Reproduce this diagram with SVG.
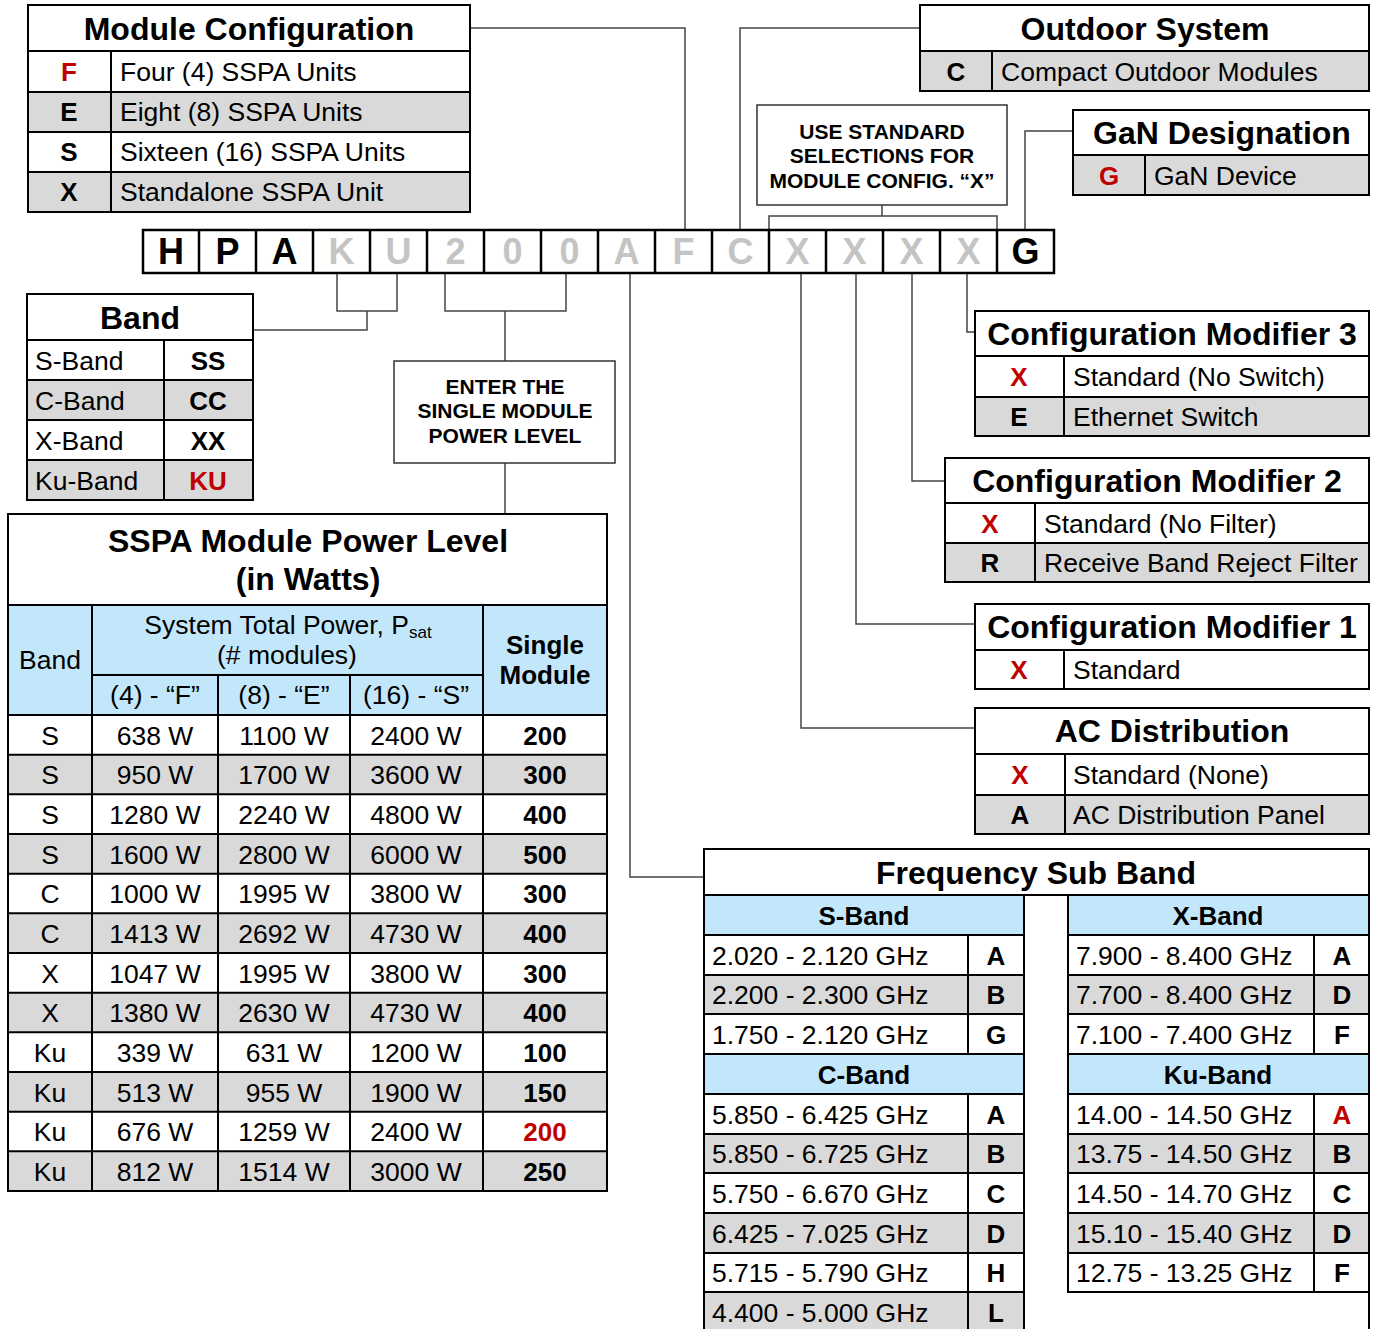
<svg xmlns="http://www.w3.org/2000/svg" width="1373" height="1329" viewBox="0 0 1373 1329">
<style>
text{font-family:"Liberation Sans",Arial,sans-serif;fill:#000}
.t{font-size:32px;font-weight:bold;text-anchor:middle}
.r{font-size:26.5px}
.rc{font-size:26.5px;text-anchor:middle}
.k{font-size:26px;font-weight:bold;text-anchor:middle}
.red{fill:#c00000}
.code{font-size:36px;font-weight:bold;text-anchor:middle;fill:#c4c4c4}
.dark{fill:#000}
.note{font-size:21px;font-weight:bold;text-anchor:middle}
.box{fill:#fff;stroke:#000;stroke-width:2}
.nbox{fill:#fff;stroke:#333;stroke-width:1.5}
.ln{stroke:#000;stroke-width:2;fill:none}
.g{fill:#d9d9d9}
.b{fill:#c3e7fa}
.cn{stroke:#444;stroke-width:1.5;fill:none}
</style>

<g id="connectors">
<path class="cn" d="M470 28H685V230"/>
<path class="cn" d="M920 28H740V230"/>
<path class="cn" d="M1073 131H1025V230"/>
<path class="cn" d="M882 205V216M769 230V216H997V230"/>
<path class="cn" d="M337 273V311H397V273M367 311V330H253"/>
<path class="cn" d="M445 273V311H566V273M505 311V361M505 463V514"/>
<path class="cn" d="M630 273V877H704"/>
<path class="cn" d="M801 273V728H975"/>
<path class="cn" d="M856 273V624H975"/>
<path class="cn" d="M912 273V481H945"/>
<path class="cn" d="M967 273V332H975"/>
</g>

<g id="module-configuration">
<rect class="box" x="28" y="5" width="442" height="207"/>
<rect class="g" x="28" y="92" width="442" height="40"/>
<rect class="g" x="28" y="172" width="442" height="40"/>
<rect x="28" y="5" width="442" height="207" fill="none" stroke="#000" stroke-width="2"/>
<path class="ln" d="M28 51H470M28 92H470M28 132H470M28 172H470M111 51V212"/>
<text class="t" x="249" y="40">Module Configuration</text>
<text class="k red" x="69" y="81">F</text><text class="r" x="120" y="81">Four (4) SSPA Units</text>
<text class="k" x="69" y="121">E</text><text class="r" x="120" y="121">Eight (8) SSPA Units</text>
<text class="k" x="69" y="161">S</text><text class="r" x="120" y="161">Sixteen (16) SSPA Units</text>
<text class="k" x="69" y="201">X</text><text class="r" x="120" y="201">Standalone SSPA Unit</text>
</g>

<g id="outdoor-system">
<rect class="box" x="920" y="5" width="449" height="86"/>
<rect class="g" x="920" y="51" width="449" height="40"/>
<rect x="920" y="5" width="449" height="86" fill="none" stroke="#000" stroke-width="2"/>
<path class="ln" d="M920 51H1369M992 51V91"/>
<text class="t" x="1145" y="40">Outdoor System</text>
<text class="k" x="956" y="81">C</text><text class="r" x="1001" y="81">Compact Outdoor Modules</text>
</g>

<g id="gan-designation">
<rect class="box" x="1073" y="110" width="296" height="85"/>
<rect class="g" x="1073" y="155" width="296" height="40"/>
<rect x="1073" y="110" width="296" height="85" fill="none" stroke="#000" stroke-width="2"/>
<path class="ln" d="M1073 155H1369M1145 155V195"/>
<text class="t" x="1222" y="144">GaN Designation</text>
<text class="k red" x="1109" y="185">G</text><text class="r" x="1154" y="185">GaN Device</text>
</g>

<g id="note-standard">
<rect class="nbox" x="757" y="105" width="250" height="100"/>
<text class="note" x="882" y="139">USE STANDARD</text>
<text class="note" x="882" y="163">SELECTIONS FOR</text>
<text class="note" x="882" y="188">MODULE CONFIG. “X”</text>
</g>

<g id="model-code">
<rect x="143" y="230" width="911" height="43" fill="#fff"/>
<path stroke="#000" stroke-width="2.5" fill="none" d="M143 230H1054V273H143ZM199 230V273M256 230V273M313 230V273M370 230V273M427 230V273M484 230V273M541 230V273M598 230V273M655 230V273M712 230V273M769 230V273M826 230V273M883 230V273M940 230V273M997 230V273"/>
<text class="code dark" x="171" y="264">H</text>
<text class="code dark" x="227.5" y="264">P</text>
<text class="code dark" x="284.5" y="264">A</text>
<text class="code" x="341.5" y="264">K</text>
<text class="code" x="398.5" y="264">U</text>
<text class="code" x="455.5" y="264">2</text>
<text class="code" x="512.5" y="264">0</text>
<text class="code" x="569.5" y="264">0</text>
<text class="code" x="626.5" y="264">A</text>
<text class="code" x="683.5" y="264">F</text>
<text class="code" x="740.5" y="264">C</text>
<text class="code" x="797.5" y="264">X</text>
<text class="code" x="854.5" y="264">X</text>
<text class="code" x="911.5" y="264">X</text>
<text class="code" x="968.5" y="264">X</text>
<text class="code dark" x="1025.5" y="264">G</text>
</g>

<g id="band">
<rect class="box" x="27" y="294" width="226" height="206"/>
<rect class="g" x="27" y="380" width="226" height="40"/>
<rect class="g" x="27" y="460" width="226" height="40"/>
<rect x="27" y="294" width="226" height="206" fill="none" stroke="#000" stroke-width="2"/>
<path class="ln" d="M27 340H253M27 380H253M27 420H253M27 460H253M164 340V500"/>
<text class="t" x="140" y="329">Band</text>
<text class="r" x="35" y="370">S-Band</text><text class="k" x="208" y="370">SS</text>
<text class="r" x="35" y="410">C-Band</text><text class="k" x="208" y="410">CC</text>
<text class="r" x="35" y="450">X-Band</text><text class="k" x="208" y="450">XX</text>
<text class="r" x="35" y="490">Ku-Band</text><text class="k red" x="208" y="490">KU</text>
</g>

<g id="note-power">
<rect class="nbox" x="394" y="361" width="221" height="102"/>
<text class="note" x="505" y="394">ENTER THE</text>
<text class="note" x="505" y="418">SINGLE MODULE</text>
<text class="note" x="505" y="443">POWER LEVEL</text>
</g>

<g id="config-modifier-3">
<rect class="box" x="975" y="311" width="394" height="125"/>
<rect class="g" x="975" y="397" width="394" height="39"/>
<rect x="975" y="311" width="394" height="125" fill="none" stroke="#000" stroke-width="2"/>
<path class="ln" d="M975 356H1369M975 397H1369M1064 356V436"/>
<text class="t" x="1172" y="345">Configuration Modifier 3</text>
<text class="k red" x="1019" y="386">X</text><text class="r" x="1073" y="386">Standard (No Switch)</text>
<text class="k" x="1019" y="426">E</text><text class="r" x="1073" y="426">Ethernet Switch</text>
</g>

<g id="config-modifier-2">
<rect class="box" x="945" y="458" width="424" height="124"/>
<rect class="g" x="945" y="543" width="424" height="39"/>
<rect x="945" y="458" width="424" height="124" fill="none" stroke="#000" stroke-width="2"/>
<path class="ln" d="M945 503H1369M945 543H1369M1035 503V582"/>
<text class="t" x="1157" y="492">Configuration Modifier 2</text>
<text class="k red" x="990" y="533">X</text><text class="r" x="1044" y="533">Standard (No Filter)</text>
<text class="k" x="990" y="572">R</text><text class="r" x="1044" y="572">Receive Band Reject Filter</text>
</g>

<g id="config-modifier-1">
<rect class="box" x="975" y="604" width="394" height="85"/>
<path class="ln" d="M975 650H1369M1064 650V689"/>
<text class="t" x="1172" y="638">Configuration Modifier 1</text>
<text class="k red" x="1019" y="679">X</text><text class="r" x="1073" y="679">Standard</text>
</g>

<g id="ac-distribution">
<rect class="box" x="975" y="708" width="394" height="126"/>
<rect class="g" x="975" y="795" width="394" height="39"/>
<rect x="975" y="708" width="394" height="126" fill="none" stroke="#000" stroke-width="2"/>
<path class="ln" d="M975 754H1369M975 795H1369M1065 754V834"/>
<text class="t" x="1172" y="742">AC Distribution</text>
<text class="k red" x="1020" y="784">X</text><text class="r" x="1073" y="784">Standard (None)</text>
<text class="k" x="1020" y="824">A</text><text class="r" x="1073" y="824">AC Distribution Panel</text>
</g>

<g id="sspa-power-level">
<rect class="box" x="8" y="514" width="599" height="677"/>
<rect class="b" x="8" y="605" width="599" height="110"/>
<rect class="g" x="8" y="754.7" width="599" height="39.7"/>
<rect class="g" x="8" y="834" width="599" height="39.7"/>
<rect class="g" x="8" y="913.3" width="599" height="39.7"/>
<rect class="g" x="8" y="992.7" width="599" height="39.7"/>
<rect class="g" x="8" y="1072" width="599" height="39.7"/>
<rect class="g" x="8" y="1151.3" width="599" height="39.7"/>
<rect x="8" y="514" width="599" height="677" fill="none" stroke="#000" stroke-width="2"/>
<path class="ln" d="M8 605H607M8 715H607M92 675H483M8 754.7H607M8 794.3H607M8 834H607M8 873.7H607M8 913.3H607M8 953H607M8 992.7H607M8 1032.3H607M8 1072H607M8 1111.7H607M8 1151.3H607M92 605V1191M218 675V1191M350 675V1191M483 605V1191"/>
<text class="t" x="308" y="552">SSPA Module Power Level</text>
<text class="t" x="308" y="590">(in Watts)</text>
<text class="rc" x="50" y="669">Band</text>
<text class="rc" x="288" y="634">System Total Power, P<tspan font-size="17" dy="4">sat</tspan></text>
<text class="rc" x="287" y="664">(# modules)</text>
<text class="rc" x="155" y="704">(4) - “F”</text>
<text class="rc" x="284" y="704">(8) - “E”</text>
<text class="rc" x="416" y="704">(16) - “S”</text>
<text class="k" x="545" y="654">Single</text>
<text class="k" x="545" y="684">Module</text>
<g class="rows">
<text class="rc" x="50" y="744.5">S</text><text class="rc" x="155" y="744.5">638 W</text><text class="rc" x="284" y="744.5">1100 W</text><text class="rc" x="416" y="744.5">2400 W</text><text class="k" x="545" y="744.5">200</text>
<text class="rc" x="50" y="784.2">S</text><text class="rc" x="155" y="784.2">950 W</text><text class="rc" x="284" y="784.2">1700 W</text><text class="rc" x="416" y="784.2">3600 W</text><text class="k" x="545" y="784.2">300</text>
<text class="rc" x="50" y="823.8">S</text><text class="rc" x="155" y="823.8">1280 W</text><text class="rc" x="284" y="823.8">2240 W</text><text class="rc" x="416" y="823.8">4800 W</text><text class="k" x="545" y="823.8">400</text>
<text class="rc" x="50" y="863.5">S</text><text class="rc" x="155" y="863.5">1600 W</text><text class="rc" x="284" y="863.5">2800 W</text><text class="rc" x="416" y="863.5">6000 W</text><text class="k" x="545" y="863.5">500</text>
<text class="rc" x="50" y="903.2">C</text><text class="rc" x="155" y="903.2">1000 W</text><text class="rc" x="284" y="903.2">1995 W</text><text class="rc" x="416" y="903.2">3800 W</text><text class="k" x="545" y="903.2">300</text>
<text class="rc" x="50" y="942.8">C</text><text class="rc" x="155" y="942.8">1413 W</text><text class="rc" x="284" y="942.8">2692 W</text><text class="rc" x="416" y="942.8">4730 W</text><text class="k" x="545" y="942.8">400</text>
<text class="rc" x="50" y="982.5">X</text><text class="rc" x="155" y="982.5">1047 W</text><text class="rc" x="284" y="982.5">1995 W</text><text class="rc" x="416" y="982.5">3800 W</text><text class="k" x="545" y="982.5">300</text>
<text class="rc" x="50" y="1022.2">X</text><text class="rc" x="155" y="1022.2">1380 W</text><text class="rc" x="284" y="1022.2">2630 W</text><text class="rc" x="416" y="1022.2">4730 W</text><text class="k" x="545" y="1022.2">400</text>
<text class="rc" x="50" y="1061.8">Ku</text><text class="rc" x="155" y="1061.8">339 W</text><text class="rc" x="284" y="1061.8">631 W</text><text class="rc" x="416" y="1061.8">1200 W</text><text class="k" x="545" y="1061.8">100</text>
<text class="rc" x="50" y="1101.5">Ku</text><text class="rc" x="155" y="1101.5">513 W</text><text class="rc" x="284" y="1101.5">955 W</text><text class="rc" x="416" y="1101.5">1900 W</text><text class="k" x="545" y="1101.5">150</text>
<text class="rc" x="50" y="1141.2">Ku</text><text class="rc" x="155" y="1141.2">676 W</text><text class="rc" x="284" y="1141.2">1259 W</text><text class="rc" x="416" y="1141.2">2400 W</text><text class="k red" x="545" y="1141.2">200</text>
<text class="rc" x="50" y="1180.8">Ku</text><text class="rc" x="155" y="1180.8">812 W</text><text class="rc" x="284" y="1180.8">1514 W</text><text class="rc" x="416" y="1180.8">3000 W</text><text class="k" x="545" y="1180.8">250</text>
</g>
</g>

<g id="frequency-sub-band">
<rect class="box" x="704" y="849" width="665" height="500"/>
<rect class="b" x="704" y="895" width="320" height="40"/>
<rect class="b" x="704" y="1054" width="320" height="40"/>
<rect class="b" x="1068" y="895" width="301" height="40"/>
<rect class="b" x="1068" y="1054" width="301" height="40"/>
<rect class="g" x="704" y="975" width="320" height="39"/>
<rect class="g" x="704" y="1134" width="320" height="39"/>
<rect class="g" x="704" y="1213" width="320" height="40"/>
<rect class="g" x="704" y="1292" width="320" height="50"/>
<rect class="g" x="1068" y="975" width="301" height="39"/>
<rect class="g" x="1068" y="1134" width="301" height="39"/>
<rect class="g" x="1068" y="1213" width="301" height="40"/>
<rect x="704" y="849" width="665" height="500" fill="none" stroke="#000" stroke-width="2"/>
<path class="ln" d="M704 895H1369M1024 895V1340M1068 895V1292H1369M704 935H1024M704 975H1024M704 1014H1024M704 1054H1024M704 1094H1024M704 1134H1024M704 1173H1024M704 1213H1024M704 1253H1024M704 1292H1024M1068 935H1369M1068 975H1369M1068 1014H1369M1068 1054H1369M1068 1094H1369M1068 1134H1369M1068 1173H1369M1068 1213H1369M1068 1253H1369M968 935V1054M968 1094V1340M1314 935V1054M1314 1094V1292"/>
<text class="t" x="1036" y="884">Frequency Sub Band</text>
<text class="k" x="864" y="924.5">S-Band</text>
<text class="k" x="1218" y="924.5">X-Band</text>
<text class="k" x="864" y="1083.5">C-Band</text>
<text class="k" x="1218" y="1083.5">Ku-Band</text>
<text class="r" x="712" y="964.5">2.020 - 2.120 GHz</text><text class="k" x="996" y="964.5">A</text>
<text class="r" x="712" y="1004">2.200 - 2.300 GHz</text><text class="k" x="996" y="1004">B</text>
<text class="r" x="712" y="1043.5">1.750 - 2.120 GHz</text><text class="k" x="996" y="1043.5">G</text>
<text class="r" x="712" y="1123.5">5.850 - 6.425 GHz</text><text class="k" x="996" y="1123.5">A</text>
<text class="r" x="712" y="1163">5.850 - 6.725 GHz</text><text class="k" x="996" y="1163">B</text>
<text class="r" x="712" y="1202.5">5.750 - 6.670 GHz</text><text class="k" x="996" y="1202.5">C</text>
<text class="r" x="712" y="1242.5">6.425 - 7.025 GHz</text><text class="k" x="996" y="1242.5">D</text>
<text class="r" x="712" y="1282">5.715 - 5.790 GHz</text><text class="k" x="996" y="1282">H</text>
<text class="r" x="712" y="1321.5">4.400 - 5.000 GHz</text><text class="k" x="996" y="1321.5">L</text>
<text class="r" x="1076" y="964.5">7.900 - 8.400 GHz</text><text class="k" x="1342" y="964.5">A</text>
<text class="r" x="1076" y="1004">7.700 - 8.400 GHz</text><text class="k" x="1342" y="1004">D</text>
<text class="r" x="1076" y="1043.5">7.100 - 7.400 GHz</text><text class="k" x="1342" y="1043.5">F</text>
<text class="r" x="1076" y="1123.5">14.00 - 14.50 GHz</text><text class="k red" x="1342" y="1123.5">A</text>
<text class="r" x="1076" y="1163">13.75 - 14.50 GHz</text><text class="k" x="1342" y="1163">B</text>
<text class="r" x="1076" y="1202.5">14.50 - 14.70 GHz</text><text class="k" x="1342" y="1202.5">C</text>
<text class="r" x="1076" y="1242.5">15.10 - 15.40 GHz</text><text class="k" x="1342" y="1242.5">D</text>
<text class="r" x="1076" y="1282">12.75 - 13.25 GHz</text><text class="k" x="1342" y="1282">F</text>
</g>
</svg>
